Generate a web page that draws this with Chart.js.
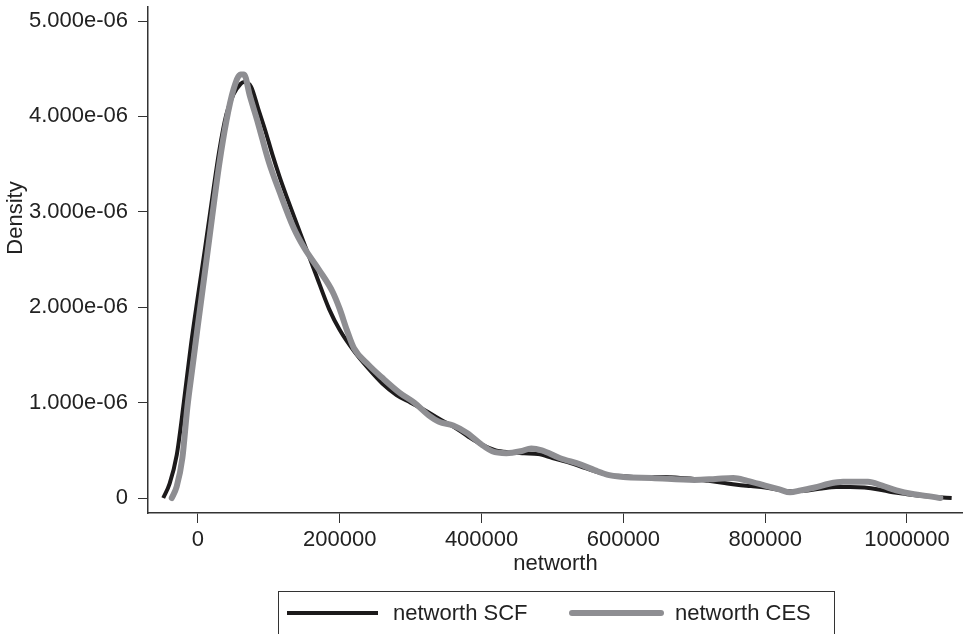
<!DOCTYPE html>
<html>
<head>
<meta charset="utf-8">
<title>networth density</title>
<script src="https://cdn.jsdelivr.net/npm/chart.js@4.4.0/dist/chart.umd.min.js"></script>
<style>
  html, body { margin: 0; padding: 0; background: #fff; }
  #wrap { width: 963px; height: 634px; position: relative; overflow: hidden; }
</style>
</head>
<body>
<div id="wrap"><canvas id="densityChart" width="963" height="634"></canvas></div>
<script>
// kernel density estimates of net worth, two surveys (density in units of 1e-6)
var scfNetworth = [-49000, -40000, -30000, -20000, -10000, 0, 10000, 20000, 30000, 40000, 50000, 60000, 65000, 75000,
	85000, 95000, 105000, 115000, 125000, 145000, 165000, 185000, 200000, 220000, 240000, 260000, 280000, 300000, 320000,
	340000, 360000, 380000, 400000, 420000, 440000, 460000, 480000, 500000, 520000, 540000, 560000, 580000, 600000,
	620000, 640000, 660000, 680000, 700000, 720000, 740000, 760000, 780000, 800000, 820000, 835000, 860000, 880000,
	900000, 920000, 940000, 960000, 980000, 1000000, 1020000, 1040000, 1063000];
var scfDensity = [0, 0.15, 0.45, 1.0, 1.6, 2.12, 2.62, 3.14, 3.64, 4.02, 4.23, 4.34, 4.36, 4.31,
	4.08, 3.85, 3.60, 3.37, 3.16, 2.76, 2.37, 1.98, 1.76, 1.54, 1.36, 1.20, 1.08, 1.00, 0.92,
	0.83, 0.75, 0.65, 0.56, 0.50, 0.48, 0.47, 0.46, 0.42, 0.38, 0.33, 0.28, 0.24, 0.23,
	0.22, 0.22, 0.22, 0.21, 0.20, 0.18, 0.16, 0.14, 0.125, 0.11, 0.085, 0.07, 0.08, 0.10,
	0.115, 0.115, 0.11, 0.09, 0.06, 0.04, 0.02, 0.01, 0.0];

var cesNetworth = [-37000, -30000, -22000, -15000, -8000, 0, 10000, 20000, 30000, 40000, 50000, 60000, 65000, 73000,
	85000, 100000, 115000, 135000, 150000, 170000, 190000, 200000, 210000, 220000, 240000, 260000, 285000, 305000,
	325000, 340000, 360000, 380000, 400000, 415000, 435000, 455000, 470000, 485000, 510000, 540000, 560000, 580000,
	600000, 640000, 700000, 730000, 755000, 775000, 800000, 820000, 835000, 850000, 870000, 890000, 910000, 945000,
	965000, 985000, 1010000, 1030000, 1047000];
var cesDensity = [0, 0.12, 0.42, 0.95, 1.36, 1.82, 2.38, 2.95, 3.50, 3.95, 4.28, 4.44, 4.44, 4.22,
	3.92, 3.52, 3.21, 2.83, 2.62, 2.40, 2.16, 1.98, 1.76, 1.57, 1.40, 1.26, 1.10, 1.00,
	0.87, 0.80, 0.76, 0.68, 0.56, 0.49, 0.47, 0.49, 0.52, 0.50, 0.42, 0.35, 0.29, 0.24,
	0.22, 0.21, 0.19, 0.20, 0.21, 0.18, 0.13, 0.09, 0.06, 0.08, 0.11, 0.15, 0.17, 0.17,
	0.13, 0.08, 0.04, 0.02, 0.0];

var seriesLabels = ['networth SCF', 'networth CES'];
var xTicks = [0, 200000, 400000, 600000, 800000, 1000000];
var yTicks = [0, 1e-6, 2e-6, 3e-6, 4e-6, 5e-6];
var yTickLabels = ['0', '1.000e-06', '2.000e-06', '3.000e-06', '4.000e-06', '5.000e-06'];

var FONT = '"Liberation Sans", Arial, Helvetica, sans-serif';
var INK = '#222222';
var AXIS = '#333333';
var SCF_COLOR = '#1c1a1b';
var CES_COLOR = '#8e8e92';

var toPoints = function(xs, ys) {
	return xs.map(function(x, i) { return { x: x, y: ys[i] * 1e-6 }; });
};

// y title and the boxed legend underneath the plot
var frameText = {
	id: 'frameText',
	afterDraw: function(chart) {
		var ctx = chart.ctx;
		var ds = chart.data.datasets;
		ctx.save();
		ctx.font = '22px ' + FONT;
		ctx.fillStyle = INK;
		ctx.textBaseline = 'middle';

		ctx.save();
		ctx.translate(16, 218);
		ctx.rotate(-Math.PI / 2);
		ctx.textAlign = 'center';
		ctx.fillText('Density', 0, 0);
		ctx.restore();

		ctx.strokeStyle = AXIS;
		ctx.lineWidth = 1;
		ctx.strokeRect(278.5, 591.5, 556, 60);

		var items = [
			{ x0: 287, x1: 378, tx: 393, ds: ds[0], cap: 'butt' },
			{ x0: 572, x1: 661, tx: 675, ds: ds[1], cap: 'round' }
		];
		items.forEach(function(it) {
			ctx.beginPath();
			ctx.lineCap = it.cap;
			ctx.strokeStyle = it.ds.borderColor;
			ctx.lineWidth = it.ds.borderWidth;
			ctx.moveTo(it.x0, 613);
			ctx.lineTo(it.x1, 613);
			ctx.stroke();
			ctx.textAlign = 'left';
			ctx.fillStyle = INK;
			ctx.fillText(it.ds.label, it.tx, 614);
		});
		ctx.restore();
	}
};

var trimPadding = function(scale) {
	scale.paddingTop = 0;
	scale.paddingBottom = 0;
	scale.paddingLeft = 0;
	scale.paddingRight = 0;
};

var densityChart = new Chart(document.getElementById('densityChart'), {
	type: 'line',
	data: {
		datasets: [{
			label: seriesLabels[0],
			data: toPoints(scfNetworth, scfDensity),
			borderColor: SCF_COLOR,
			borderWidth: 4,
			pointRadius: 0,
			cubicInterpolationMode: 'monotone',
			fill: false,
			order: 1
		}, {
			label: seriesLabels[1],
			data: toPoints(cesNetworth, cesDensity),
			borderColor: CES_COLOR,
			borderWidth: 6,
			borderCapStyle: 'round',
			pointRadius: 0,
			cubicInterpolationMode: 'monotone',
			fill: false,
			order: 0
		}]
	},
	options: {
		responsive: false,
		animation: false,
		devicePixelRatio: 1,
		layout: { padding: { top: 7, right: 0, bottom: 0, left: 0 } },
		plugins: {
			legend: { display: false },
			tooltip: { enabled: false }
		},
		scales: {
			x: {
				type: 'linear',
				min: -70500,
				max: 1079000,
				afterBuildTicks: function(scale) {
					scale.ticks = xTicks.map(function(v) { return { value: v }; });
				},
				afterFit: function(scale) {
					scale.height = 121;
					trimPadding(scale);
				},
				grid: { drawOnChartArea: false, tickLength: 10, color: AXIS, lineWidth: 1 },
				border: { display: true, color: AXIS, width: 1.5 },
				ticks: {
					color: INK,
					padding: 4,
					maxRotation: 0,
					autoSkip: false,
					font: { family: FONT, size: 22 },
					callback: function(v) { return String(v); }
				},
				title: {
					display: true,
					text: 'networth',
					color: INK,
					font: { family: FONT, size: 22 },
					padding: { top: 0, bottom: 57 }
				}
			},
			y: {
				type: 'linear',
				min: -0.157e-6,
				max: 5.147e-6,
				afterBuildTicks: function(scale) {
					scale.ticks = yTicks.map(function(v) { return { value: v }; });
				},
				afterFit: function(scale) {
					scale.width = 148;
					trimPadding(scale);
				},
				grid: { drawOnChartArea: false, tickLength: 10, color: AXIS, lineWidth: 1 },
				border: { display: true, color: AXIS, width: 1.5 },
				ticks: {
					color: INK,
					padding: 10,
					autoSkip: false,
					font: { family: FONT, size: 22 },
					callback: function(v, i) { return yTickLabels[i]; }
				}
			}
		}
	},
	plugins: [frameText]
});
</script>
</body>
</html>
